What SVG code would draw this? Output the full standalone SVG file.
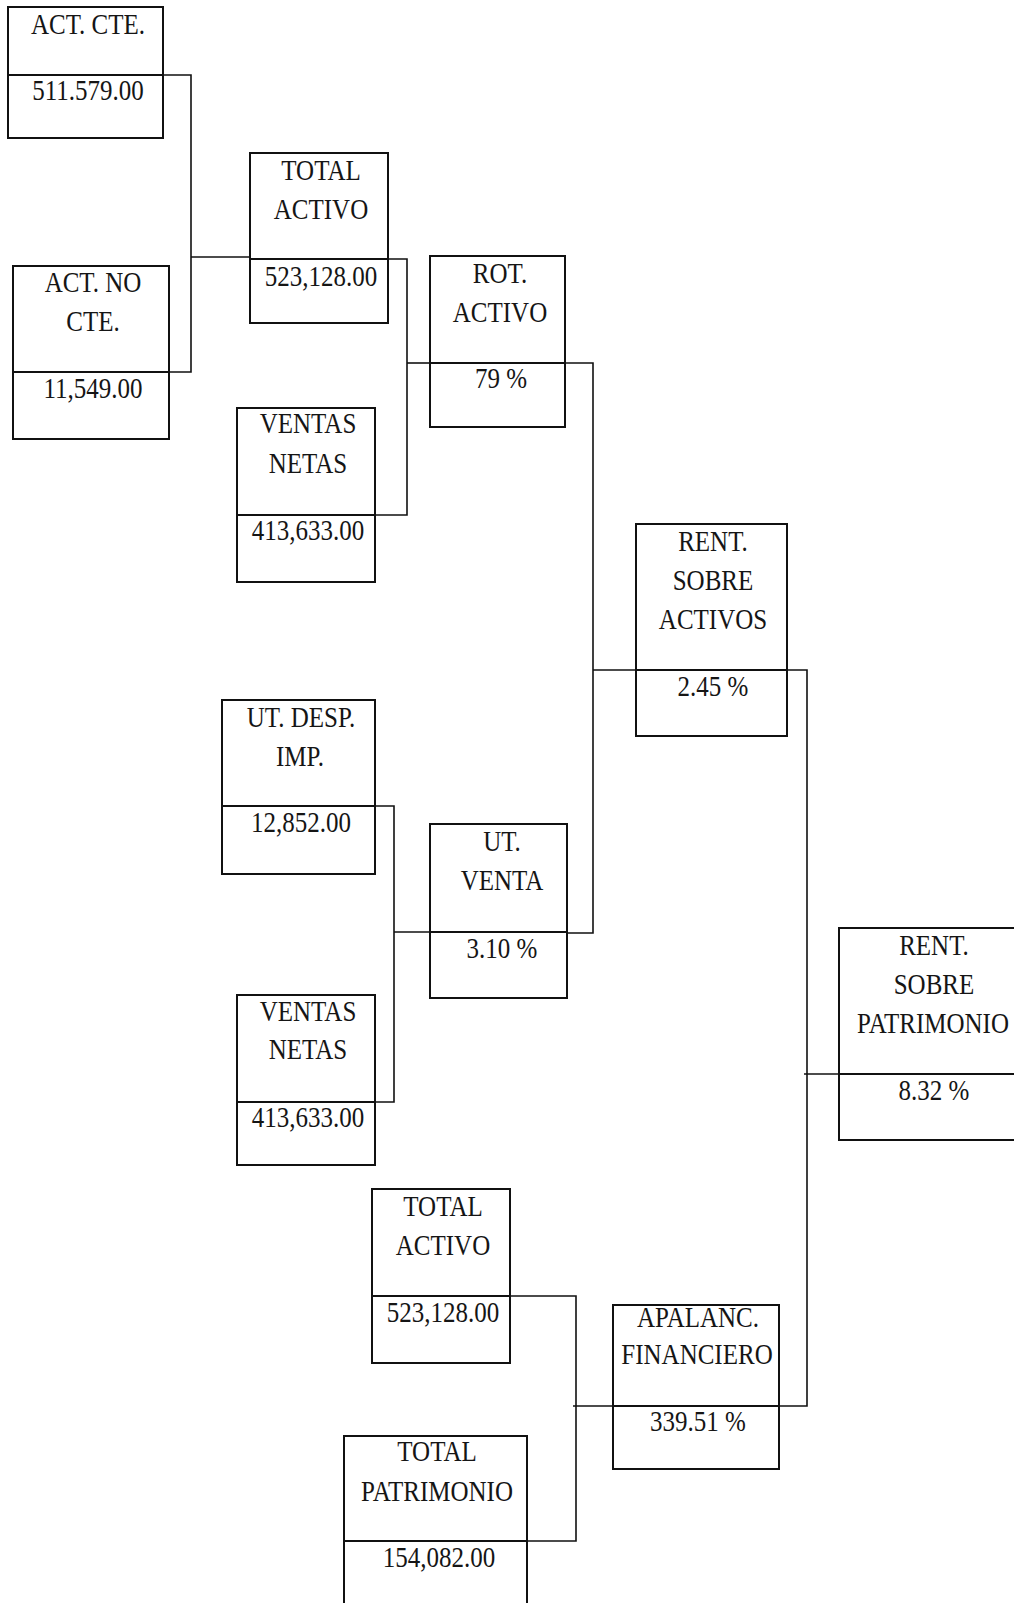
<svg xmlns="http://www.w3.org/2000/svg" width="1014" height="1603" viewBox="0 0 1014 1603">
<style>
.box{fill:#fff;stroke:#111;stroke-width:2}
.div{stroke:#111;stroke-width:2;fill:none}
.con{stroke:#111;stroke-width:1.6;fill:none}
text{font-family:"Liberation Serif","Times New Roman",serif;font-size:25px;fill:#151515;text-anchor:middle}
</style>
<rect width="1014" height="1603" fill="#fff"/>
<g id="connectors">
<polyline class="con" points="163,75 191,75 191,372 169,372"/>
<line class="con" x1="191" y1="257" x2="250" y2="257"/>
<polyline class="con" points="388,259 407,259 407,515 375,515"/>
<line class="con" x1="407" y1="363" x2="430" y2="363"/>
<polyline class="con" points="565,363 593,363 593,933 567,933"/>
<line class="con" x1="593" y1="670" x2="636" y2="670"/>
<polyline class="con" points="375,806 394,806 394,1102 375,1102"/>
<line class="con" x1="394" y1="932" x2="430" y2="932"/>
<polyline class="con" points="787,670 807,670 807,1406 779,1406"/>
<line class="con" x1="804" y1="1074" x2="839" y2="1074"/>
<polyline class="con" points="510,1296 576,1296 576,1541 527,1541"/>
<line class="con" x1="573" y1="1406" x2="613" y2="1406"/>
</g>
<g id="act_cte">
<rect class="box" x="8" y="7" width="155" height="131"/>
<line class="div" x1="8" y1="75" x2="163" y2="75"/>
<text transform="translate(88 34) scale(1 1.2)">ACT. CTE.</text>
<text transform="translate(88 100) scale(1 1.2)">511.579.00</text>
</g>
<g id="act_no_cte">
<rect class="box" x="13" y="266" width="156" height="173"/>
<line class="div" x1="13" y1="372" x2="169" y2="372"/>
<text transform="translate(93 292) scale(1 1.2)">ACT. NO</text>
<text transform="translate(93 331) scale(1 1.2)">CTE.</text>
<text transform="translate(93 398) scale(1 1.2)">11,549.00</text>
</g>
<g id="total_activo_1">
<rect class="box" x="250" y="153" width="138" height="170"/>
<line class="div" x1="250" y1="259" x2="388" y2="259"/>
<text transform="translate(321 180) scale(1 1.2)">TOTAL</text>
<text transform="translate(321 219) scale(1 1.2)">ACTIVO</text>
<text transform="translate(321 286) scale(1 1.2)">523,128.00</text>
</g>
<g id="rot_activo">
<rect class="box" x="430" y="256" width="135" height="171"/>
<line class="div" x1="430" y1="363" x2="565" y2="363"/>
<text transform="translate(500 283) scale(1 1.2)">ROT.</text>
<text transform="translate(500 322) scale(1 1.2)">ACTIVO</text>
<text transform="translate(501 388) scale(1 1.2)">79 %</text>
</g>
<g id="ventas_netas_1">
<rect class="box" x="237" y="408" width="138" height="174"/>
<line class="div" x1="237" y1="515" x2="375" y2="515"/>
<text transform="translate(308 433) scale(1 1.2)">VENTAS</text>
<text transform="translate(308 473) scale(1 1.2)">NETAS</text>
<text transform="translate(308 540) scale(1 1.2)">413,633.00</text>
</g>
<g id="ut_desp_imp">
<rect class="box" x="222" y="700" width="153" height="174"/>
<line class="div" x1="222" y1="806" x2="375" y2="806"/>
<text transform="translate(301 727) scale(1 1.2)">UT. DESP.</text>
<text transform="translate(300 766) scale(1 1.2)">IMP.</text>
<text transform="translate(301 832) scale(1 1.2)">12,852.00</text>
</g>
<g id="ut_venta">
<rect class="box" x="430" y="824" width="137" height="174"/>
<line class="div" x1="430" y1="932" x2="567" y2="932"/>
<text transform="translate(502 851) scale(1 1.2)">UT.</text>
<text transform="translate(502 890) scale(1 1.2)">VENTA</text>
<text transform="translate(502 958) scale(1 1.2)">3.10 %</text>
</g>
<g id="ventas_netas_2">
<rect class="box" x="237" y="995" width="138" height="170"/>
<line class="div" x1="237" y1="1102" x2="375" y2="1102"/>
<text transform="translate(308 1021) scale(1 1.2)">VENTAS</text>
<text transform="translate(308 1059) scale(1 1.2)">NETAS</text>
<text transform="translate(308 1127) scale(1 1.2)">413,633.00</text>
</g>
<g id="rent_sobre_activos">
<rect class="box" x="636" y="524" width="151" height="212"/>
<line class="div" x1="636" y1="670" x2="787" y2="670"/>
<text transform="translate(713 551) scale(1 1.2)">RENT.</text>
<text transform="translate(713 590) scale(1 1.2)">SOBRE</text>
<text transform="translate(713 629) scale(1 1.2)">ACTIVOS</text>
<text transform="translate(713 696) scale(1 1.2)">2.45 %</text>
</g>
<g id="rent_sobre_patrimonio">
<rect class="box" x="839" y="928" width="190" height="212"/>
<line class="div" x1="839" y1="1074" x2="1029" y2="1074"/>
<text transform="translate(934 955) scale(1 1.2)">RENT.</text>
<text transform="translate(934 994) scale(1 1.2)">SOBRE</text>
<text transform="translate(933 1033) scale(1 1.2)">PATRIMONIO</text>
<text transform="translate(934 1100) scale(1 1.2)">8.32 %</text>
</g>
<g id="total_activo_2">
<rect class="box" x="372" y="1189" width="138" height="174"/>
<line class="div" x1="372" y1="1296" x2="510" y2="1296"/>
<text transform="translate(443 1216) scale(1 1.2)">TOTAL</text>
<text transform="translate(443 1255) scale(1 1.2)">ACTIVO</text>
<text transform="translate(443 1322) scale(1 1.2)">523,128.00</text>
</g>
<g id="apalanc_financiero">
<rect class="box" x="613" y="1305" width="166" height="164"/>
<line class="div" x1="613" y1="1406" x2="779" y2="1406"/>
<text transform="translate(698 1327) scale(1 1.2)">APALANC.</text>
<text transform="translate(697 1364) scale(1 1.2)">FINANCIERO</text>
<text transform="translate(698 1431) scale(1 1.2)">339.51 %</text>
</g>
<g id="total_patrimonio">
<rect class="box" x="344" y="1436" width="183" height="200"/>
<line class="div" x1="344" y1="1541" x2="527" y2="1541"/>
<text transform="translate(437 1461) scale(1 1.2)">TOTAL</text>
<text transform="translate(437 1501) scale(1 1.2)">PATRIMONIO</text>
<text transform="translate(439 1567) scale(1 1.2)">154,082.00</text>
</g>
</svg>
